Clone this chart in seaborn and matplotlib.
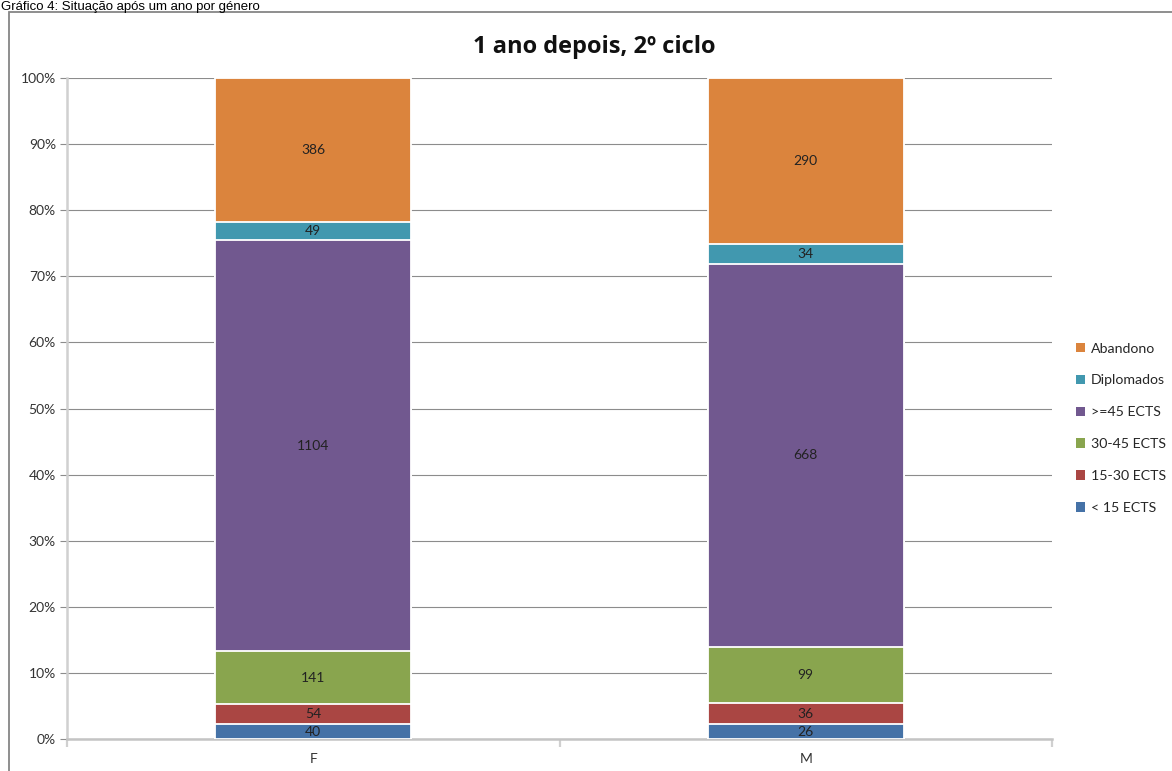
import matplotlib
matplotlib.use("Agg")
import matplotlib.pyplot as plt
from matplotlib.patches import Rectangle, Patch
import seaborn as sns
import pandas as pd
import numpy as np

categories = ["F", "M"]
series_names = ["< 15 ECTS", "15-30 ECTS", "30-45 ECTS", ">=45 ECTS", "Diplomados", "Abandono"]
lt15 = [40, 26]
e15_30 = [54, 36]
e30_45 = [141, 99]
ge45 = [1104, 668]
diplomados = [49, 34]
abandono = [386, 290]
colors = ["#4572A7", "#AA4643", "#89A54E", "#71588F", "#4198AF", "#DB843D"]
yticklabels = ["0%", "10%", "20%", "30%", "40%", "50%", "60%", "70%", "80%", "90%", "100%"]

sns.set_theme(style="white")
plt.rcParams["font.family"] = ["Lato", "DejaVu Sans"]

series = [lt15, e15_30, e30_45, ge45, diplomados, abandono]
counts = np.array(series, dtype=float)
totals = counts.sum(axis=0)
pct = counts / totals * 100
cum = np.cumsum(pct, axis=0)

fig = plt.figure(figsize=(11.72, 7.71), dpi=100)
ax = fig.add_axes([67/1172, 1 - 739/771, (1052 - 67)/1172, (739 - 78)/771])

# outer frame
fig.patches.append(Rectangle((8.5/1172, -0.01), 1.0, 1 - 12/771 + 0.01, transform=fig.transFigure,
                             fill=False, edgecolor="#868686", linewidth=1.3, zorder=0))

# draw cumulative bars from top down
for i in range(len(series) - 1, -1, -1):
    df = pd.DataFrame({"cat": categories, "val": cum[i]})
    sns.barplot(data=df, x="cat", y="val", color=colors[i], saturation=1, width=0.398,
                edgecolor="white", linewidth=1.3, ax=ax, zorder=3)

# data labels
for i in range(len(series)):
    for j in range(len(categories)):
        bottom = cum[i][j] - pct[i][j]
        ax.text(j, bottom + pct[i][j] / 2, f"{int(series[i][j])}", ha="center", va="center",
                fontsize=10, color="#222222", zorder=5)

ax.set_ylim(0, 100)
ax.set_xlim(-0.5, 1.5)
ax.set_yticks(np.arange(0, 101, 10))
ax.set_yticklabels(yticklabels, fontsize=10, color="#333333")
ax.set_xticks([0, 1])
ax.set_xticklabels(categories, fontsize=10, color="#333333")
ax.set_xlabel("")
ax.set_ylabel("")
ax.yaxis.grid(True, color="#8C8C8C", linewidth=0.8, zorder=0)
ax.set_axisbelow(True)
for s in ["top", "right"]:
    ax.spines[s].set_visible(False)
ax.spines["left"].set_color("#D0D0D0")
ax.spines["left"].set_linewidth(1.8)
ax.spines["bottom"].set_color("#C4C4C4")
ax.spines["bottom"].set_linewidth(1.8)
ax.tick_params(axis="y", which="major", length=5, width=0.8, color="#8C8C8C", direction="out", left=True, pad=3)
ax.tick_params(axis="x", which="major", length=0, pad=10)
ax.set_xticks([-0.5, 0.5, 1.5], minor=True)
ax.tick_params(axis="x", which="minor", length=6, width=1.6, color="#D0D0D0", direction="out", bottom=True)

# legend
handles = [Patch(facecolor=colors[i], edgecolor="none", label=series_names[i]) for i in range(len(series) - 1, -1, -1)]
leg = fig.legend(handles=handles, loc="upper left", bbox_to_anchor=(1070/1172, 1 - 337/771),
                 frameon=False, fontsize=10.2, labelspacing=1.4, handlelength=0.65, handleheight=0.65,
                 handletextpad=0.45, borderaxespad=0)

fig.text(594/1172, 1 - 47/771, "1 ano depois, 2º ciclo", ha="center", va="center",
         fontsize=17, fontweight="bold", family=["Open Sans", "DejaVu Sans"], color="#111111")
fig.text(1/1172, 1 - 10/771, "Gráfico 4: Situação após um ano por género", ha="left", va="baseline",
         fontsize=9.5, family=["Liberation Sans", "DejaVu Sans"], color="#000000")

fig.savefig("out.png", dpi=100)
